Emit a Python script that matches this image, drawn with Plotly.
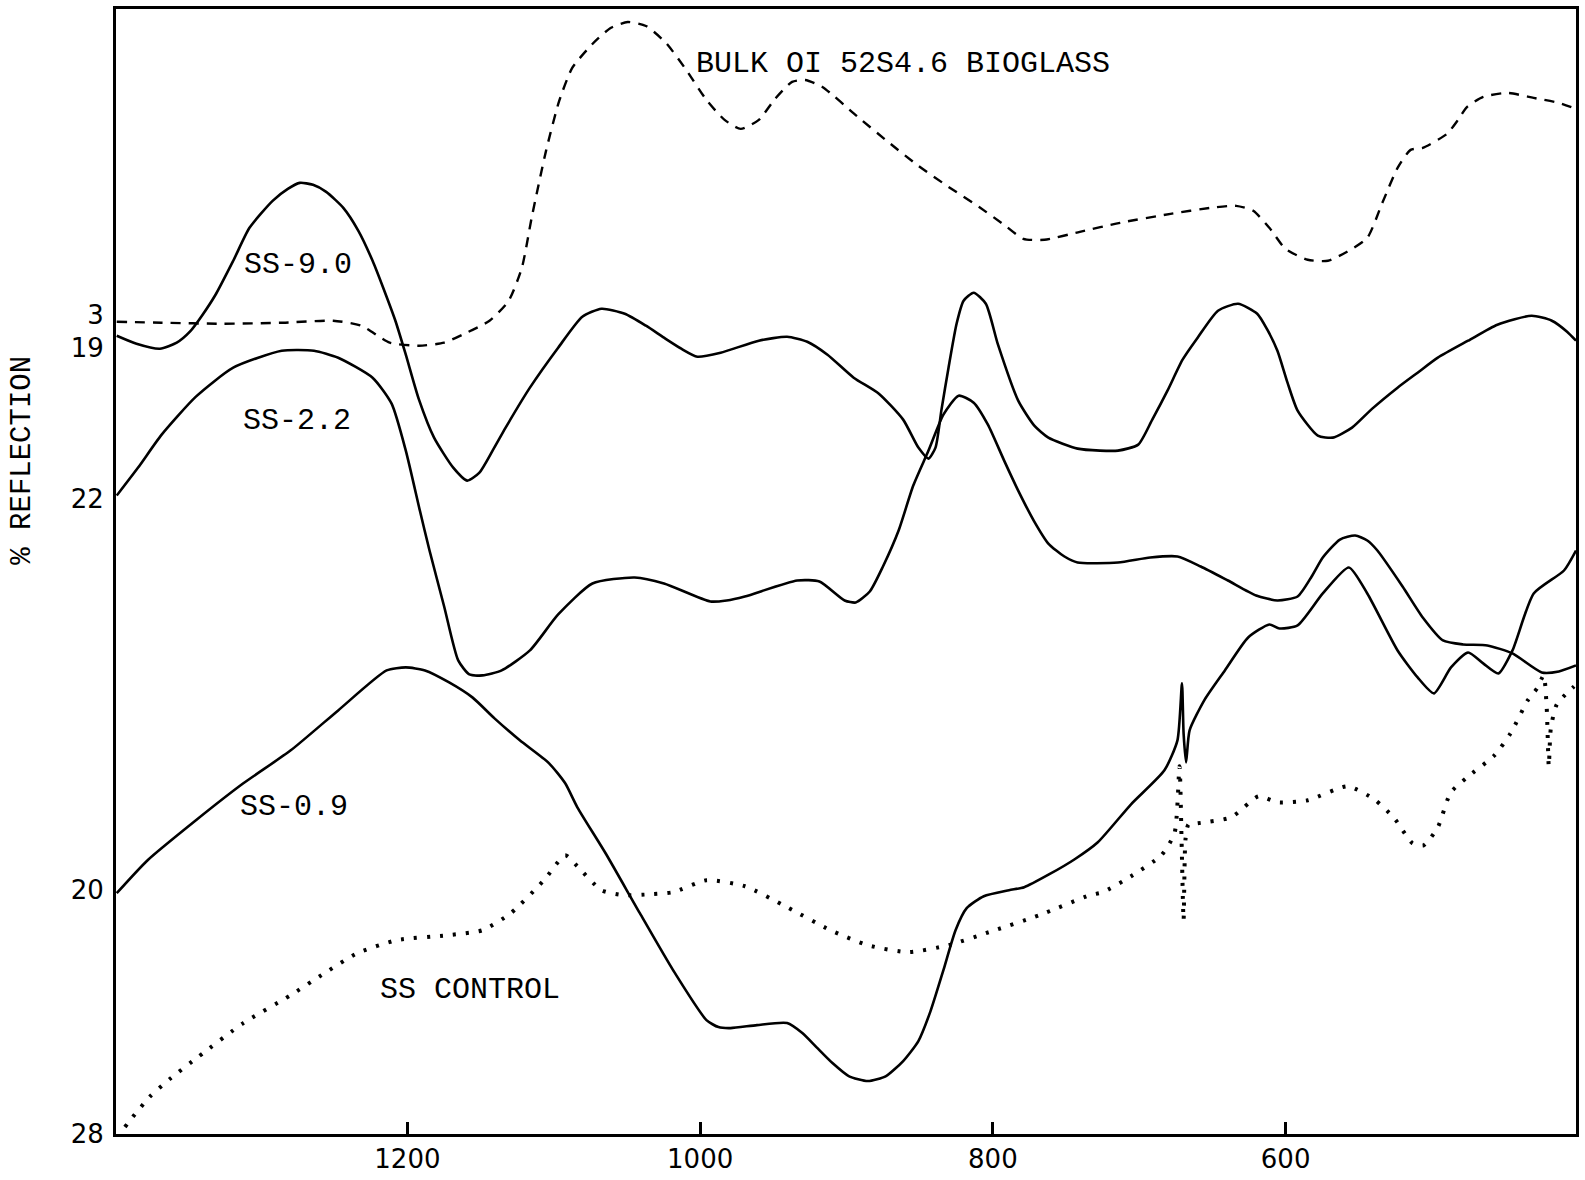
import plotly.graph_objects as go

# wavenumber (cm^-1) and relative reflection (chart units)
bulk_x = [1398.6, 1367.9, 1326.5, 1285.2, 1250.7, 1231.4, 1212.1, 1192.1, 1174.9, 1162.5, 1143.9, 1130.8,
          1121.8, 1115.0, 1105.3, 1096.3, 1087.4, 1073.6, 1061.2, 1049.5, 1037.0, 1023.3, 1009.5, 995.7,
          983.3, 972.3, 959.9, 948.9, 937.2, 928.2, 916.5, 892.3, 871.6, 850.9, 830.3, 809.6, 792.3, 779.2,
          764.8, 740.6, 713.1, 678.6, 651.0, 633.8, 622.1, 611.1, 600.1, 584.9, 571.1, 558.0, 544.2, 533.9,
          523.5, 514.6, 506.3, 489.8, 482.2, 476.0, 465.0, 448.4, 430.5, 413.3, 401.6]
bulk_y = [81.3, 81.2, 81.1, 81.2, 81.4, 80.9, 79.2, 78.9, 79.2, 80.0, 81.4, 83.4,
          86.7, 91.8, 98.4, 103.4, 106.7, 109.1, 110.7, 111.3, 110.9, 109.2, 106.5, 103.5,
          101.5, 100.6, 101.5, 103.6, 105.3, 105.5, 104.8, 101.8, 99.3, 96.9, 94.8, 92.8, 91.0, 89.6,
          89.5, 90.3, 91.2, 92.1, 92.7, 92.9, 92.4, 90.7, 88.6, 87.5, 87.4, 88.3, 89.7, 93.2,
          96.7, 98.5, 98.7, 100.1, 101.5, 102.8, 103.8, 104.2, 103.7, 103.2, 102.6]

ss90_x = [1398.6, 1385.1, 1369.1, 1357.6, 1348.6, 1340.4, 1330.7, 1319.0, 1307.9, 1292.1, 1281.7, 1273.5,
          1264.5, 1255.5, 1243.8, 1233.5, 1223.8, 1216.3, 1208.0, 1201.1, 1192.1, 1181.8, 1168.7, 1159.1,
          1150.8, 1141.8, 1132.9, 1116.3, 1097.0, 1080.5, 1067.4, 1051.5, 1037.0, 1024.7, 1012.9, 1001.9,
          986.0, 959.9, 940.6, 926.8, 913.0, 895.1, 877.9, 861.3, 850.9, 844.0, 839.2, 835.1, 830.3, 824.8,
          820.0, 813.1, 804.8, 796.5, 782.7, 771.7, 762.1, 742.1, 726.9, 714.5, 700.7, 691.1, 680.7, 670.4,
          660.1, 646.2, 632.5, 619.4, 612.5, 605.6, 598.7, 591.8, 578.0, 567.7, 554.6, 540.8, 523.5, 509.8,
          496.0, 475.3, 455.3, 431.9, 418.1, 407.7, 401.6]
ss90_y = [79.9, 79.1, 78.6, 79.2, 80.3, 81.9, 84.1, 87.4, 90.7, 93.4, 94.6, 95.2,
          95.0, 94.3, 92.7, 90.4, 87.4, 84.6, 81.3, 78.0, 73.5, 69.7, 66.7, 65.4,
          66.2, 68.4, 70.7, 74.7, 78.7, 81.8, 82.6, 82.1, 80.9, 79.7, 78.6, 77.8,
          78.2, 79.4, 79.8, 79.3, 78.0, 75.7, 74.1, 71.5, 68.7, 67.6, 68.7, 72.5, 76.7, 81.1,
          83.4, 84.2, 83.1, 79.0, 73.4, 70.9, 69.7, 68.6, 68.4, 68.4, 69.0, 71.5, 74.4, 77.5,
          79.7, 82.4, 83.1, 82.1, 80.5, 78.4, 75.2, 72.4, 69.9, 69.7, 70.7, 72.6, 74.7, 76.2,
          77.7, 79.4, 81.0, 81.9, 81.4, 80.3, 79.4]

ss22_x = [1398.6, 1384.0, 1367.9, 1344.5, 1319.0, 1285.9, 1263.8, 1247.3, 1223.8, 1210.8, 1201.1, 1191.5,
          1184.9, 1174.9, 1165.3, 1157.7, 1148.7, 1135.6, 1116.3, 1097.0, 1073.6, 1044.7, 1024.7, 993.0,
          981.9, 969.5, 933.7, 918.5, 901.3, 893.7, 884.1, 875.1, 864.4, 854.4, 844.0, 833.8, 823.4, 813.1,
          803.4, 792.3, 782.7, 771.7, 762.1, 751.1, 742.1, 714.5, 692.5, 673.9, 658.0, 639.4, 620.1, 605.6,
          591.8, 582.2, 574.6, 562.9, 552.5, 544.2, 537.3, 520.1, 506.3, 492.5, 478.8, 462.2, 445.0, 425.0,
          413.3, 401.6]
ss22_y = [63.9, 66.7, 70.0, 73.8, 76.7, 78.4, 78.4, 77.7, 75.7, 73.1, 68.4, 62.4,
          58.4, 52.8, 47.4, 46.0, 45.9, 46.4, 48.4, 52.0, 55.1, 55.7, 55.1, 53.3,
          53.4, 53.8, 55.4, 55.3, 53.4, 53.2, 54.3, 56.8, 60.4, 64.9, 68.4, 72.0, 73.9, 73.2,
          71.0, 67.4, 64.4, 61.3, 59.1, 57.8, 57.2, 57.2, 57.7, 57.8, 56.8, 55.4, 53.9, 53.4,
          53.8, 55.8, 57.7, 59.5, 59.9, 59.4, 58.4, 54.8, 51.7, 49.4, 49.0, 48.9, 48.1, 46.2,
          46.3, 46.9]

ss09_x = [1398.6, 1377.5, 1344.5, 1312.1, 1279.7, 1247.3, 1214.2, 1201.1, 1188.0, 1171.5, 1155.6, 1140.5,
          1123.2, 1103.2, 1092.2, 1083.9, 1064.6, 1041.2, 1018.5, 995.7, 987.5, 979.2, 961.2, 940.6,
          930.2, 920.6, 909.6, 898.5, 885.4, 873.0, 861.3, 850.9, 842.6, 833.8, 825.5, 817.9, 806.2,
          789.0, 778.6, 761.4, 744.1, 728.3, 705.6, 682.8, 673.9, 670.8, 669.7, 668.0, 665.6, 655.2,
          641.5, 625.6, 611.1, 604.2, 591.8, 574.6, 556.8, 544.2, 523.5, 509.8, 498.7, 487.0, 475.3,
          465.0, 454.6, 445.0, 430.5, 409.8, 401.6]
ss09_y = [24.1, 27.4, 31.4, 35.1, 38.4, 42.4, 46.4, 46.7, 46.4, 45.2, 43.7, 41.6,
          39.4, 37.1, 35.1, 32.7, 28.1, 22.1, 16.4, 11.4, 10.7, 10.6, 10.9, 11.1,
          10.1, 8.7, 7.1, 5.8, 5.3, 5.8, 7.3, 9.3, 12.3, 16.4, 20.4, 22.6, 23.8,
          24.4, 24.7, 26.0, 27.5, 29.2, 33.0, 36.4, 39.4, 45.1, 40.1, 37.2, 40.4, 43.5,
          46.4, 49.7, 51.0, 50.6, 50.9, 54.1, 56.7, 54.1, 48.4, 45.7, 44.1, 46.7, 48.2,
          47.1, 46.1, 48.4, 54.1, 56.4, 58.4]

ctrl_x = [1393.0, 1388.2, 1376.2, 1362.4, 1343.1, 1312.1, 1279.7, 1256.6, 1234.2, 1207.3, 1172.2, 1148.7,
          1129.4, 1106.7, 1092.2, 1083.9, 1067.4, 1051.5, 1033.6, 1018.5, 995.7, 969.5, 940.6, 911.0,
          885.4, 857.9, 830.3, 802.7, 768.3, 733.8, 724.9, 705.6, 684.9, 675.9, 672.5, 671.1, 669.7,
          668.4, 666.3, 660.1, 637.1, 618.5, 605.6, 584.9, 557.7, 539.5, 525.7, 513.3, 505.7, 496.0,
          487.1, 472.5, 457.3, 446.3, 434.6, 428.2, 423.7, 421.6, 420.2, 418.8, 414.7, 402.9]
ctrl_y = [0.7, 1.6, 3.7, 5.5, 7.7, 11.1, 13.9, 16.1, 18.1, 19.4, 19.9, 20.4,
          22.1, 25.4, 27.9, 26.8, 24.4, 23.9, 24.0, 24.2, 25.4, 24.8, 22.7, 20.4,
          18.9, 18.2, 18.9, 20.2, 21.9, 23.9, 24.2, 25.8, 27.9, 30.1, 36.8, 29.5, 21.4,
          29.5, 31.0, 31.1, 31.7, 33.8, 33.2, 33.4, 34.8, 33.5, 31.6, 29.1, 28.9, 30.7,
          34.2, 36.1, 37.9, 40.1, 43.4, 44.6, 45.9, 42.6, 36.8, 40.6, 43.0, 44.8]

x_tick_vals = [1200, 1000, 800, 600]
y_tick_vals = [82.0, 78.7, 63.6, 24.4, 0]
y_tick_text = ["3", "19", "22", "20", "28"]

labels = ["BULK OI 52S4.6 BIOGLASS", "SS-9.0", "SS-2.2", "SS-0.9", "SS CONTROL"]
label_x = [861.5, 1275.0, 1275.7, 1277.7, 1157.0]
label_y = [107.1, 87.0, 71.4, 32.7, 14.4]

fig = go.Figure()
solid = dict(color="black", width=2.6, shape="spline", smoothing=0.6)
fig.add_trace(go.Scatter(x=bulk_x, y=bulk_y, mode="lines",
                         line=dict(color="black", width=2.4, dash="10px,8px", shape="spline", smoothing=0.6)))
fig.add_trace(go.Scatter(x=ss90_x, y=ss90_y, mode="lines", line=solid))
fig.add_trace(go.Scatter(x=ss22_x, y=ss22_y, mode="lines", line=solid))
fig.add_trace(go.Scatter(x=ss09_x, y=ss09_y, mode="lines", line=solid))
fig.add_trace(go.Scatter(x=ctrl_x, y=ctrl_y, mode="lines",
                         line=dict(color="black", width=4, dash="3px,10px", shape="spline", smoothing=0.6)))

mono = "Liberation Mono, Courier New, monospace"
for t, lx, ly in zip(labels, label_x, label_y):
    fig.add_annotation(x=lx, y=ly, text=t, showarrow=False, xref="x", yref="y",
                       xanchor="center", yanchor="middle",
                       font=dict(family=mono, size=30, color="black"))

fig.add_annotation(x=-0.0643, y=0.5986, xref="paper", yref="paper", text="% REFLECTION",
                   textangle=-90, showarrow=False, xanchor="center", yanchor="middle",
                   font=dict(family=mono, size=29, color="black"))

fig.update_layout(
    width=1585, height=1180,
    margin=dict(l=116, r=6, t=8, b=46),
    paper_bgcolor="white", plot_bgcolor="white",
    showlegend=False,
    xaxis=dict(range=[1399.1, 401.6], tickvals=x_tick_vals, ticks="inside", ticklen=12,
               tickwidth=2.5, tickcolor="black", showgrid=False, zeroline=False,
               showline=True, linecolor="black", linewidth=3, mirror=True,
               tickfont=dict(family="DejaVu Sans", size=26, color="black")),
    yaxis=dict(range=[0, 112.6], tickvals=y_tick_vals, ticktext=y_tick_text, ticks="",
               showgrid=False, zeroline=False, showline=True, linecolor="black",
               linewidth=3, mirror=True, ticklabelstandoff=4,
               tickfont=dict(family="DejaVu Sans", size=26, color="black")),
)

fig.write_html("out.html", config={"displayModeBar": False},
               post_script="document.body.style.margin='0px';document.body.style.overflow='hidden';")
